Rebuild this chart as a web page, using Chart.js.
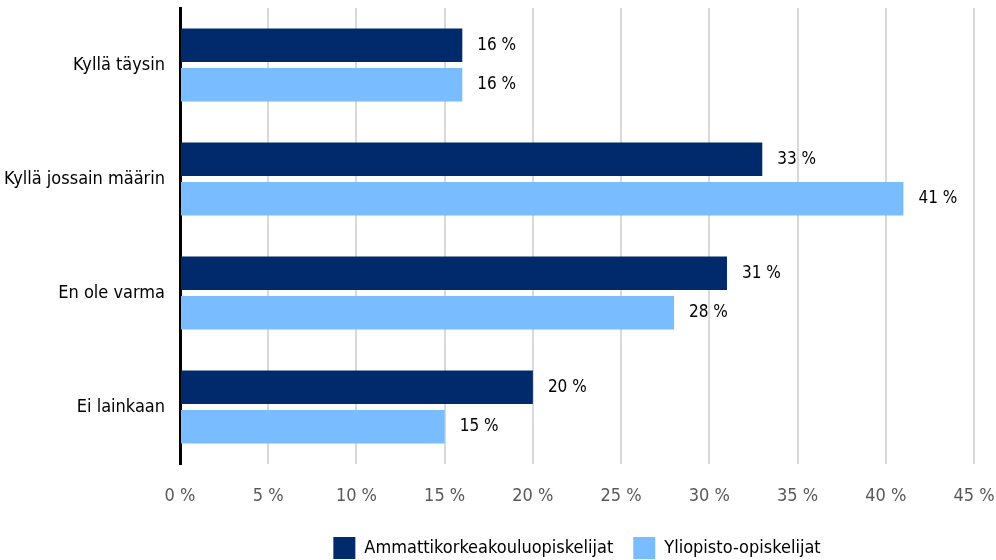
<!DOCTYPE html>
<html>
<head>
<meta charset="utf-8">
<script src="https://cdn.jsdelivr.net/npm/chart.js@4"></script>
<style>
  html, body { margin: 0; padding: 0; background: #fff; }
  #wrap { width: 996px; height: 560px; }
</style>
</head>
<body>
<div id="wrap"><canvas id="myChart"></canvas></div>
<script>
const labels = [
    "Kyllä täysin",
    "Kyllä jossain määrin",
    "En ole varma",
    "Ei lainkaan",
];

const seriesNames = ["Ammattikorkeakouluopiskelijat", "Yliopisto-opiskelijat"];
const amkValues = [16, 33, 31, 20];
const yoValues = [16, 41, 28, 15];
const xTicks = [0, 5, 10, 15, 20, 25, 30, 35, 40, 45];

const FONT = "'Liberation Sans Narrow', 'DejaVu Sans Condensed', 'Roboto Condensed', sans-serif";

// draws "16 %" style labels after the bar ends
const valueLabels = {
    id: 'valueLabels',
    afterDatasetsDraw(chart) {
        const ctx = chart.ctx;
        ctx.save();
        ctx.font = '17px ' + FONT;
        ctx.fillStyle = '#000';
        ctx.textAlign = 'left';
        ctx.textBaseline = 'middle';
        chart.data.datasets.forEach((ds, i) => {
            chart.getDatasetMeta(i).data.forEach((bar, j) => {
                ctx.fillText(ds.data[j] + ' %', bar.x + 15, bar.y);
            });
        });
        ctx.restore();
    }
};

// center the legend under the plot area instead of the whole canvas
const legendUnderPlot = {
    id: 'legendUnderPlot',
    beforeDraw(chart) {
        chart.legend.left = chart.chartArea.left;
        chart.legend.right = chart.chartArea.right;
    }
};

const data = {
    labels,
    datasets: [{
        label: seriesNames[0],
        data: amkValues,
        backgroundColor: '#002a6c',
    }, {
        label: seriesNames[1],
        data: yoValues,
        backgroundColor: '#79bcff',
    }],
};

const config = {
    type: 'bar',
    data: data,
    plugins: [valueLabels, legendUnderPlot],
    options: {
        indexAxis: 'y',
        responsive: true,
        maintainAspectRatio: false,
        animation: false,
        categoryPercentage: 0.69,
        barPercentage: 0.85,
        layout: { padding: { top: 8, right: 22, bottom: -9, left: 0 } },
        scales: {
            x: {
                min: 0,
                max: 45,
                afterBuildTicks: (s) => { s.ticks = xTicks.map(v => ({ value: v })); },
                afterFit: (s) => { s.height = 53; s.paddingLeft = 0; s.paddingRight = 0; },
                grid: { color: '#d9d9d9', lineWidth: 2, drawTicks: false },
                border: { display: false },
                ticks: {
                    padding: 22,
                    color: '#595959',
                    font: { family: FONT, size: 18 },
                    callback: (v) => v + ' %',
                },
            },
            y: {
                afterFit: (s) => { s.width = 180; s.paddingTop = 0; s.paddingBottom = 0; },
                grid: { display: false, drawTicks: false },
                border: { display: true, color: '#000', width: 3 },
                ticks: {
                    padding: 15,
                    color: '#000',
                    font: { family: FONT, size: 18 },
                },
            },
        },
        plugins: {
            tooltip: { enabled: false },
            legend: {
                position: 'bottom',
                labels: {
                    boxWidth: 22,
                    boxHeight: 22,
                    padding: 20,
                    color: '#000',
                    font: { family: FONT, size: 18 },
                },
            },
        },
    },
};

const myChart = new Chart(document.getElementById("myChart").getContext("2d"), config);
</script>
</body>
</html>
